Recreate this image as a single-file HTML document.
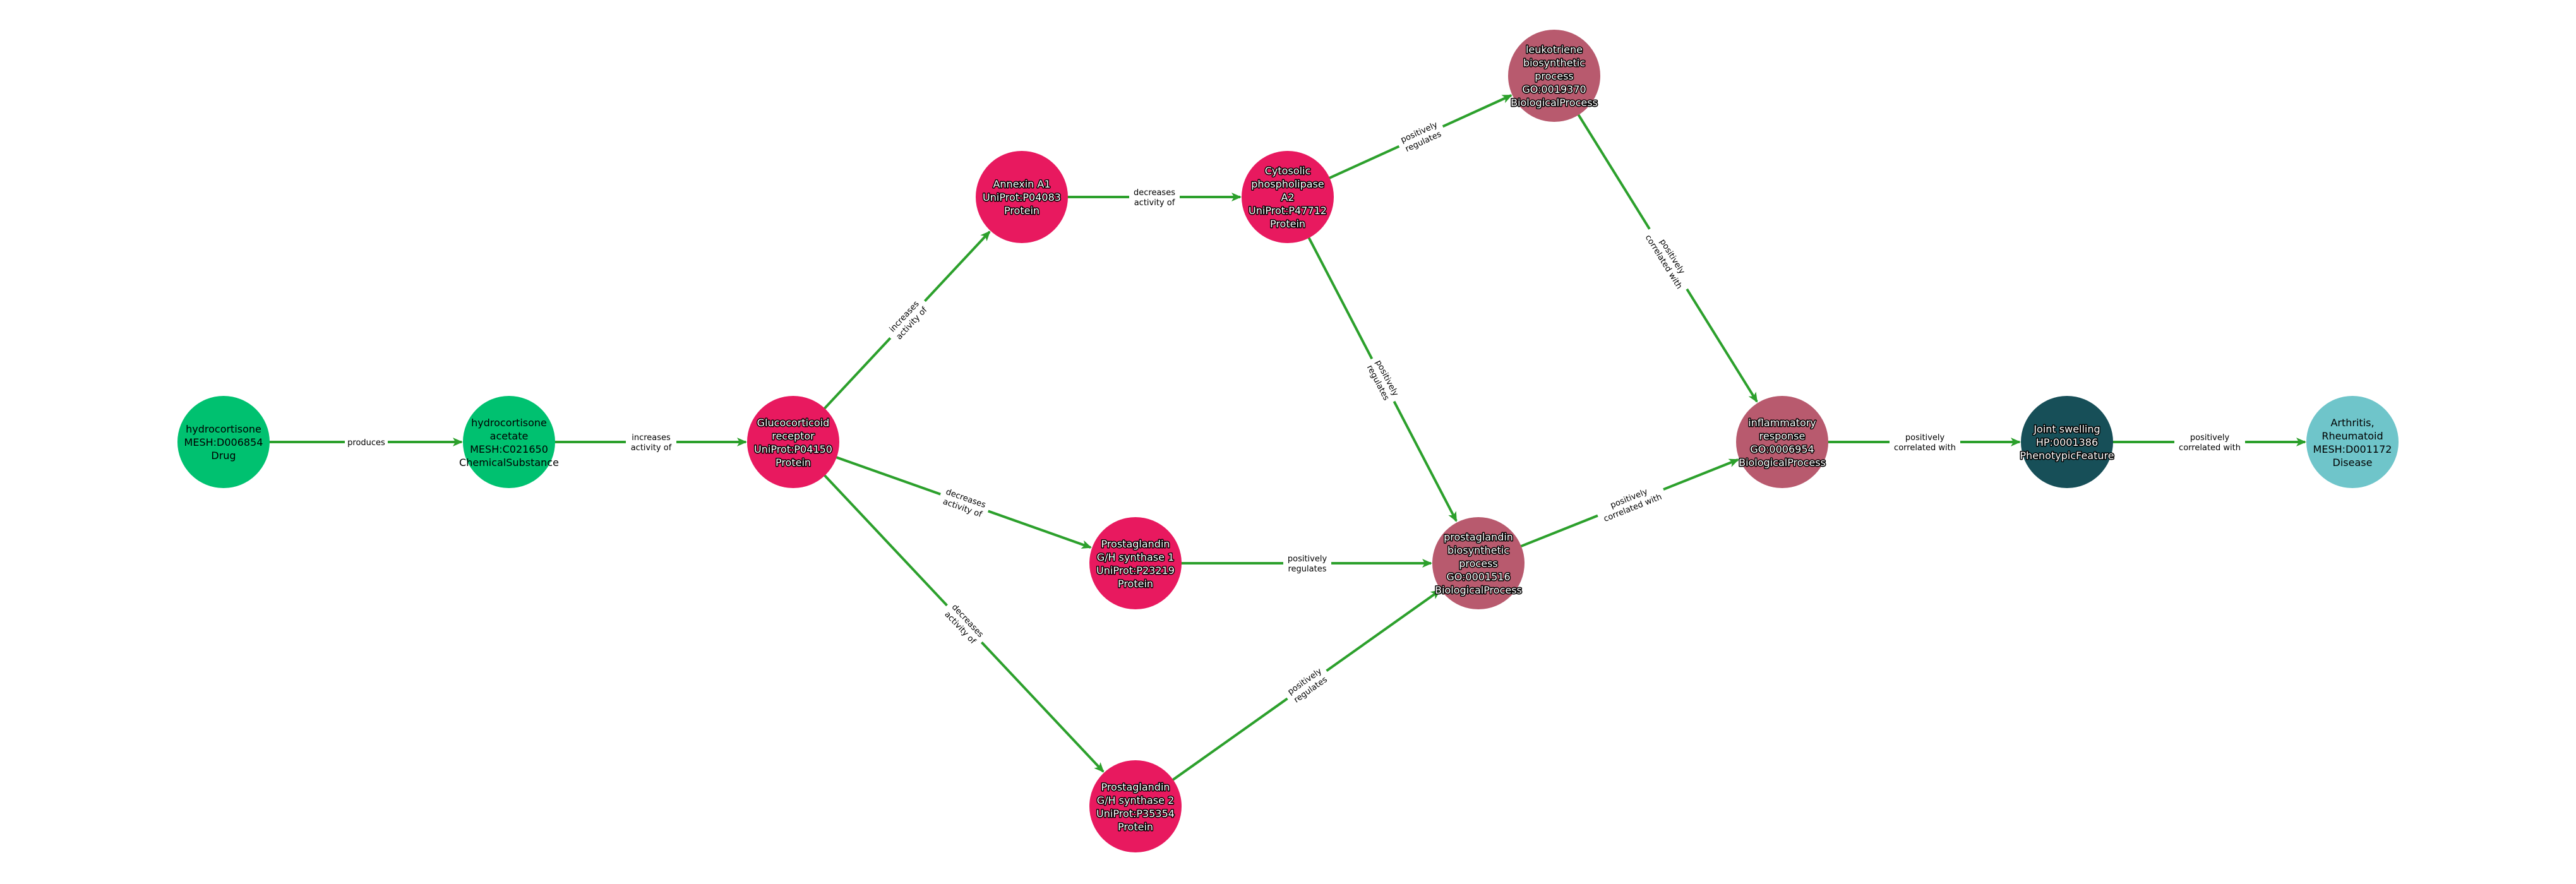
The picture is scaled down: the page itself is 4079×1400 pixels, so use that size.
<!DOCTYPE html>
<html><head><meta charset="utf-8"><style>
html,body{margin:0;padding:0;background:#fff}
svg{display:block}
.n{font-family:"DejaVu Sans","Liberation Sans",sans-serif;font-size:16px;text-anchor:middle}
.w{fill:#fff;stroke:#000;stroke-width:3px;paint-order:stroke;stroke-linejoin:round}
.b{fill:#000}
.e{font-family:"DejaVu Sans","Liberation Sans",sans-serif;font-size:13px;text-anchor:middle;fill:#000}
line{stroke:#2ca02c;stroke-width:4}
</style></head><body>
<svg width="4079" height="1400" viewBox="0 0 4079 1400" xmlns="http://www.w3.org/2000/svg">
<defs><marker id="a" markerUnits="userSpaceOnUse" markerWidth="16" markerHeight="14" refX="14" refY="7" orient="auto"><path d="M0,0 L16,7 L0,14 L4,7 Z" fill="#2ca02c"/></marker></defs>
<g marker-end="url(#a)">
<line x1="354" y1="700" x2="731" y2="700"/>
<line x1="806" y1="700" x2="1181" y2="700"/>
<line x1="1256" y1="700" x2="1567" y2="367"/>
<line x1="1256" y1="700" x2="1727" y2="867"/>
<line x1="1256" y1="700" x2="1747" y2="1222"/>
<line x1="1618" y1="312" x2="1964" y2="312"/>
<line x1="2039" y1="312" x2="2393" y2="151"/>
<line x1="2039" y1="312" x2="2306" y2="825"/>
<line x1="1798" y1="892" x2="2266" y2="892"/>
<line x1="1798" y1="1277" x2="2280" y2="935"/>
<line x1="2461" y1="120" x2="2782" y2="636"/>
<line x1="2341" y1="892" x2="2752" y2="728"/>
<line x1="2822" y1="700" x2="3198" y2="700"/>
<line x1="3273" y1="700" x2="3650" y2="700"/>
</g>
<!-- edge labels -->
<g transform="translate(580,700)"><rect x="-34" y="-11" width="68" height="22" fill="#fff"/><text class="e" y="5">produces</text></g>
<g transform="translate(1031,700)"><rect x="-40" y="-18" width="80" height="36" fill="#fff"/><text class="e" y="-3">increases</text><text class="e" y="13">activity of</text></g>
<g transform="translate(1437,506) rotate(-47)"><rect x="-40" y="-18" width="80" height="36" fill="#fff"/><text class="e" y="-3">increases</text><text class="e" y="13">activity of</text></g>
<g transform="translate(1527,796) rotate(19.5)"><rect x="-40" y="-18" width="80" height="36" fill="#fff"/><text class="e" y="-3">decreases</text><text class="e" y="13">activity of</text></g>
<g transform="translate(1527,988) rotate(46.8)"><rect x="-40" y="-18" width="80" height="36" fill="#fff"/><text class="e" y="-3">decreases</text><text class="e" y="13">activity of</text></g>
<g transform="translate(1828,312)"><rect x="-40" y="-18" width="80" height="36" fill="#fff"/><text class="e" y="-3">decreases</text><text class="e" y="13">activity of</text></g>
<g transform="translate(2250,216) rotate(-24.5)"><rect x="-38" y="-18" width="76" height="36" fill="#fff"/><text class="e" y="-3">positively</text><text class="e" y="13">regulates</text></g>
<g transform="translate(2190,602) rotate(62.5)"><rect x="-38" y="-18" width="76" height="36" fill="#fff"/><text class="e" y="-3">positively</text><text class="e" y="13">regulates</text></g>
<g transform="translate(2070,892)"><rect x="-38" y="-18" width="76" height="36" fill="#fff"/><text class="e" y="-3">positively</text><text class="e" y="13">regulates</text></g>
<g transform="translate(2070,1085) rotate(-35.3)"><rect x="-38" y="-18" width="76" height="36" fill="#fff"/><text class="e" y="-3">positively</text><text class="e" y="13">regulates</text></g>
<g transform="translate(2642,410) rotate(58.1)"><rect x="-56" y="-18" width="112" height="36" fill="#fff"/><text class="e" y="-3">positively</text><text class="e" y="13">correlated with</text></g>
<g transform="translate(2582,796) rotate(-21.8)"><rect x="-56" y="-18" width="112" height="36" fill="#fff"/><text class="e" y="-3">positively</text><text class="e" y="13">correlated with</text></g>
<g transform="translate(3048,700)"><rect x="-56" y="-18" width="112" height="36" fill="#fff"/><text class="e" y="-3">positively</text><text class="e" y="13">correlated with</text></g>
<g transform="translate(3499,700)"><rect x="-56" y="-18" width="112" height="36" fill="#fff"/><text class="e" y="-3">positively</text><text class="e" y="13">correlated with</text></g>
<!-- nodes -->
<circle cx="354" cy="700" r="73" fill="#00c170"/>
<text class="n b" x="354" y="685">hydrocortisone</text><text class="n b" x="354" y="706">MESH:D006854</text><text class="n b" x="354" y="727">Drug</text>
<circle cx="806" cy="700" r="73" fill="#00c170"/>
<text class="n b" x="806" y="675">hydrocortisone</text><text class="n b" x="806" y="696">acetate</text><text class="n b" x="806" y="717">MESH:C021650</text><text class="n b" x="806" y="738">ChemicalSubstance</text>
<circle cx="1256" cy="700" r="73" fill="#e8195f"/>
<text class="n w" x="1256" y="675">Glucocorticoid</text><text class="n w" x="1256" y="696">receptor</text><text class="n w" x="1256" y="717">UniProt:P04150</text><text class="n w" x="1256" y="738">Protein</text>
<circle cx="1618" cy="312" r="73" fill="#e8195f"/>
<text class="n w" x="1618" y="297">Annexin A1</text><text class="n w" x="1618" y="318">UniProt:P04083</text><text class="n w" x="1618" y="339">Protein</text>
<circle cx="2039" cy="312" r="73" fill="#e8195f"/>
<text class="n w" x="2039" y="276">Cytosolic</text><text class="n w" x="2039" y="297">phospholipase</text><text class="n w" x="2039" y="318">A2</text><text class="n w" x="2039" y="339">UniProt:P47712</text><text class="n w" x="2039" y="360">Protein</text>
<circle cx="2461" cy="120" r="73" fill="#b85a6e"/>
<text class="n w" x="2461" y="84">leukotriene</text><text class="n w" x="2461" y="105">biosynthetic</text><text class="n w" x="2461" y="126">process</text><text class="n w" x="2461" y="147">GO:0019370</text><text class="n w" x="2461" y="168">BiologicalProcess</text>
<circle cx="1798" cy="892" r="73" fill="#e8195f"/>
<text class="n w" x="1798" y="867">Prostaglandin</text><text class="n w" x="1798" y="888">G/H synthase 1</text><text class="n w" x="1798" y="909">UniProt:P23219</text><text class="n w" x="1798" y="930">Protein</text>
<circle cx="1798" cy="1277" r="73" fill="#e8195f"/>
<text class="n w" x="1798" y="1252">Prostaglandin</text><text class="n w" x="1798" y="1273">G/H synthase 2</text><text class="n w" x="1798" y="1294">UniProt:P35354</text><text class="n w" x="1798" y="1315">Protein</text>
<circle cx="2341" cy="892" r="73" fill="#b85a6e"/>
<text class="n w" x="2341" y="856">prostaglandin</text><text class="n w" x="2341" y="877">biosynthetic</text><text class="n w" x="2341" y="898">process</text><text class="n w" x="2341" y="919">GO:0001516</text><text class="n w" x="2341" y="940">BiologicalProcess</text>
<circle cx="2822" cy="700" r="73" fill="#b85a6e"/>
<text class="n w" x="2822" y="675">inflammatory</text><text class="n w" x="2822" y="696">response</text><text class="n w" x="2822" y="717">GO:0006954</text><text class="n w" x="2822" y="738">BiologicalProcess</text>
<circle cx="3273" cy="700" r="73" fill="#174f58"/>
<text class="n w" x="3273" y="685">Joint swelling</text><text class="n w" x="3273" y="706">HP:0001386</text><text class="n w" x="3273" y="727">PhenotypicFeature</text>
<circle cx="3725" cy="700" r="73" fill="#6fc5ca"/>
<text class="n b" x="3725" y="675">Arthritis,</text><text class="n b" x="3725" y="696">Rheumatoid</text><text class="n b" x="3725" y="717">MESH:D001172</text><text class="n b" x="3725" y="738">Disease</text>
</svg>
</body></html>
